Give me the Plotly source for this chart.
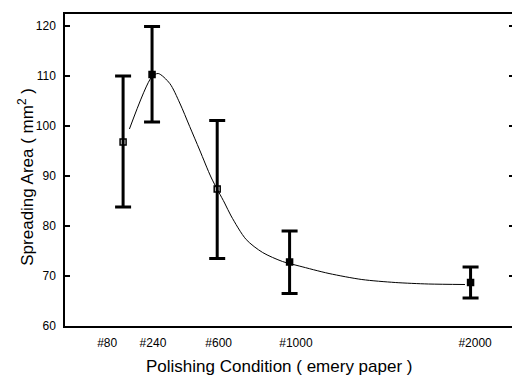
import plotly.graph_objects as go

# Data
grit = [80, 240, 600, 1000, 2000]
area_mean = [96.8, 110.3, 87.4, 72.8, 68.7]
err_plus = [13.2, 9.6, 13.7, 6.2, 3.1]
err_minus = [13.0, 9.5, 13.9, 6.3, 3.1]
marker_symbols = ["square-open", "square", "square-open", "square", "square"]

# Smooth guide curve
curve_x = [115, 238, 274, 338, 393, 448, 503, 568, 641, 677, 760, 851, 961, 1053, 1218, 1399, 1584, 1767, 1969]
curve_y = [99.4, 109.8, 110.5, 108.5, 104.6, 99.9, 95.2, 89.6, 84.6, 82.0, 77.3, 74.7, 72.9, 72.0, 70.5, 69.3, 68.7, 68.4, 68.3]

tick_labels = ["#80", "#240", "#600", "#1000", "#2000"]
tick_label_pos = [-8, 245, 608, 1035, 2025]
y_ticks = [60, 70, 80, 90, 100, 110, 120]
x_title = "Polishing Condition ( emery paper )"
y_title = "Spreading Area ( mm<sup>2</sup> )"

fig = go.Figure()
fig.add_trace(go.Scatter(
    x=curve_x, y=curve_y, mode="lines",
    line=dict(color="black", width=1, shape="spline", smoothing=0.8),
    hoverinfo="skip", showlegend=False))
fig.add_trace(go.Scatter(
    x=grit, y=area_mean, mode="markers",
    marker=dict(symbol=marker_symbols, size=6, color="black",
                line=dict(color="black", width=1.5)),
    error_y=dict(type="data", array=err_plus, arrayminus=err_minus,
                 color="black", thickness=3, width=8),
    showlegend=False))

font_family = "Liberation Sans, Arial, sans-serif"
# page body has an 8px default margin, so the figure is 8px smaller
fig.update_layout(
    width=512, height=370,
    margin=dict(l=57, r=4, t=5, b=52),
    paper_bgcolor="white", plot_bgcolor="white",
    font=dict(family=font_family, color="black"),
)
fig.update_xaxes(
    range=[-241, 2240], showgrid=False, zeroline=False,
    showline=True, linecolor="black", linewidth=1.5, mirror=True,
    tickmode="array", tickvals=tick_label_pos, ticktext=tick_labels,
    ticks="", ticklabelstandoff=5, tickfont=dict(size=12, family=font_family),
)
fig.update_yaxes(
    range=[60, 122.4], showgrid=False, zeroline=False,
    showline=True, linecolor="black", linewidth=1.5, mirror="ticks",
    tickmode="array", tickvals=y_ticks,
    ticks="inside", ticklen=5, tickwidth=1.5, tickcolor="black",
    ticklabelstandoff=5,
    tickfont=dict(size=12, family=font_family),
)
fig.add_annotation(text=x_title, xref="paper", yref="paper",
                   x=0.477, y=-0.131, xanchor="center", yanchor="middle",
                   showarrow=False, font=dict(size=17, family=font_family))
fig.add_annotation(text=y_title, xref="paper", yref="paper", textangle=-90,
                   x=-0.0887, y=0.479, xanchor="center", yanchor="middle",
                   showarrow=False, font=dict(size=17, family=font_family))

fig.write_html("out.html")
